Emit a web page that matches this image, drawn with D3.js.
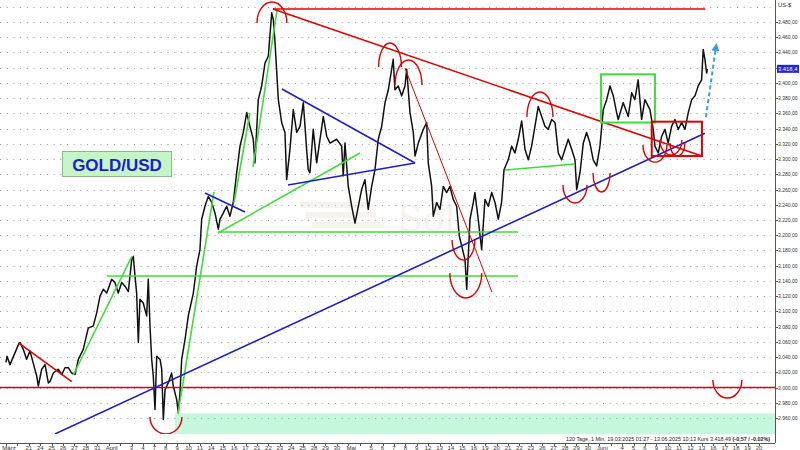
<!DOCTYPE html>
<html><head><meta charset="utf-8">
<script src="https://cdn.jsdelivr.net/npm/d3@7"></script>
<style>html,body{margin:0;padding:0;background:#fff;}svg{display:block;font-family:"Liberation Sans",Arial,sans-serif;}</style>
</head><body>
<svg id="c" width="800" height="450"></svg>
<script>
// ---- data ----
// trading-day index (0 = 19.03.2025) and price (US-$)
const priceIdx = [0,0.09,0.35,1.08,1.23,1.52,1.81,2.10,2.39,2.69,2.83,3.13,3.42,3.71,3.86,4.15,4.58,4.88,5.17,5.46,5.76,6.05,6.34,6.77,7.21,7.65,7.95,8.24,8.53,8.83,9.26,9.55,9.84,10.14,10.43,10.72,11.02,11.16,11.31,11.45,11.60,11.74,12.03,12.33,12.47,12.62,12.77,12.91,13.06,13.21,13.50,13.65,13.79,13.94,14.22,14.52,14.66,14.96,15.10,15.25,15.40,15.69,15.98,16.42,16.71,17.00,17.15,17.44,17.73,18.03,18.32,18.61,18.76,19.04,19.34,19.63,19.92,20.22,20.51,20.80,21.10,21.38,21.67,21.82,22.11,22.41,22.70,22.99,23.29,23.43,23.58,23.87,24.16,24.45,24.60,24.89,25.18,25.48,25.77,26.06,26.35,26.49,26.64,26.93,27.23,27.81,28.11,28.40,28.98,29.42,29.56,29.71,30.00,30.30,30.59,30.88,31.17,31.46,31.75,32.05,32.34,32.63,32.93,33.22,33.51,33.94,34.09,34.38,34.68,34.97,35.12,35.41,35.70,35.85,36.14,36.58,36.87,37.01,37.31,37.45,37.75,38.04,38.33,38.62,38.91,39.20,39.50,39.73,39.94,40.23,40.38,40.67,40.96,41.10,41.39,41.69,41.98,42.27,42.57,42.86,43.15,43.44,43.65,44.02,44.32,44.61,44.90,45.20,45.49,45.78,46.07,46.36,46.65,46.95,47.24,47.53,47.83,48.12,48.41,48.70,49.00,49.28,49.58,49.87,50.02,50.31,50.60,50.89,51.18,51.47,51.77,52.06,52.35,52.65,52.94,53.23,53.52,53.66,54.10,54.54,54.84,55.12,55.41,55.71,56.00,56.44,56.73,56.88,57.17,57.47,57.76,58.04,58.34,58.63,58.92,59.22,59.51,59.80,60.10,60.39,60.67,60.97,61.11,61.26,61.41,61.48];
const priceVal = [3033,3041,3030,3056,3059,3050,3037,3048,3032,3015,3002,3024,3030,3006,3008,3019,3024,3017,3026,3026,3019,3017,3037,3050,3078,3081,3098,3120,3129,3124,3142,3138,3124,3138,3133,3126,3168,3172,3146,3124,3059,3116,3111,3094,3142,3081,3037,3015,2971,3041,3037,3024,2958,2997,3006,3019,3002,2984,2967,2993,3037,3063,3094,3124,3159,3181,3221,3238,3251,3243,3229,3208,3221,3229,3238,3225,3243,3282,3317,3335,3361,3343,3326,3295,3378,3396,3426,3435,3492,3483,3453,3378,3348,3335,3273,3313,3365,3335,3343,3374,3313,3286,3282,3339,3295,3356,3330,3321,3326,3317,3278,3321,3264,3238,3216,3238,3260,3273,3234,3264,3286,3326,3343,3374,3391,3431,3391,3396,3383,3396,3418,3361,3335,3304,3321,3339,3348,3295,3264,3225,3243,3234,3264,3256,3264,3247,3238,3199,3186,3168,3129,3221,3243,3256,3221,3181,3247,3238,3256,3243,3221,3243,3286,3299,3317,3308,3326,3350,3313,3299,3317,3343,3369,3356,3343,3339,3352,3348,3308,3299,3313,3326,3313,3299,3260,3282,3321,3335,3321,3299,3291,3317,3365,3378,3396,3383,3361,3352,3374,3356,3387,3378,3404,3352,3378,3365,3339,3317,3308,3330,3339,3321,3343,3352,3339,3348,3339,3361,3378,3383,3396,3404,3444,3431,3413,3418.49];
const lastPrice = 3418.49;
const xTickLabels = ["März","","21","24","25","26","27","28","31","April","","3","4","7","8","9","10","11","14","15","16","17","21","22","23","24","25","28","29","30","Mai","","5","6","7","8","9","12","13","14","15","16","19","20","21","22","23","26","27","28","29","30","Juni","","4","5","6","9","10","11","12","13","16","17","18","19","20"];
const yTicks = [2960,2980,3000,3020,3040,3060,3080,3100,3120,3140,3160,3180,3200,3220,3240,3260,3280,3300,3320,3340,3360,3380,3400,3420,3440,3460,3480];
const gridTicks = yTicks.concat([3500]);
// drawn annotation lines: [idx1, price1, idx2, price2]
const redLines = [[23.4,3497,61.3,3497],[23.4,3497,61.0,3304],[1.08,3058.8,5.76,3007.6]];
const redThinLines = [[34.97,3419.6,42.59,3125.4]];
const redHLines = [3000];
const greenLines = [[5.9,3016.4,11.02,3171.8],[8.85,3146.4,44.87,3146.4],[18.58,3204.2,44.87,3204.2],[15.07,2965.2,18.23,3256.8],[19.98,3242.3,21.38,3360.5],[21.65,3289.6,23.75,3494.5],[18.58,3202.9,31.03,3308],[43.73,3285.6,49.87,3293.5]];
const blueLines = [[4.29,2939,61.26,3333.8],[24.19,3392,35.85,3294.8],[24.72,3266,35.85,3294.8],[17.44,3255.4,20.95,3230.5]];
const arrowLine = [61.35,3355.2,62.23,3447.2];
// rectangles: [idx1, idx2, priceTop, priceBottom]
const redRects = [[56.6,61.0,3349.1,3304]];
const greenRects = [[52.15,56.88,3411.3,3348]];
const bandRect = [14.8,67.5,2966,2900];
// arcs: [centerIdx, halfWidthIdx, endPrice, extremePrice]
const arcs = [[23.31,1.31,3478.7,3506.3],[33.66,1.0,3420.9,3452.4],[35.28,1.18,3397.3,3430.1],[46.8,1.14,3355.3,3388.1],[14.02,1.4,2961.3,2939],[40.3,1.4,3150.4,3117.6],[40.1,1.0,3193.7,3167.5],[49.87,1.05,3265.9,3242.3],[52.2,0.75,3281.7,3256.8],[56.88,1.05,3318.5,3296],[58.28,0.96,3325,3305.4],[58.85,0.66,3321,3304],[63.23,1.27,3009.8,2986.2]];
const titleText = "GOLD/USD";
const infoText = "120 Tage, 1 Min. 19.03.2025 01:27 - 13.06.2025 10:13 Kurs 3.418,49 ";
const infoBold = "(-0,57 / -0,02%)";

// ---- drawing ----
const svg = d3.select("#c");
const plotR = 775, plotB = 434, axisY = 443;
const x = d3.scaleLinear().domain([0,66]).range([6,759]);
const y = d3.scaleLinear().domain([3000,3480]).range([387.5,22]);
const fmt = v => d3.format(",.2f")(v).replace(/,/g,"#").replace(".",",").replace(/#/g,".");

svg.append("defs").append("clipPath").attr("id","clip").append("rect").attr("x",0).attr("y",0).attr("width",plotR).attr("height",plotB);
svg.select("defs").append("marker").attr("id","ah").attr("viewBox","0 0 10 10").attr("refX",5).attr("refY",5)
  .attr("markerWidth",4).attr("markerHeight",4).attr("orient","auto")
  .append("path").attr("d","M0,0 L10,5 L0,10 z").attr("fill","#3a9be6");

const g = svg.append("g").attr("clip-path","url(#clip)");

// band
g.append("rect").attr("x",x(bandRect[0])).attr("width",x(bandRect[1])-x(bandRect[0]))
  .attr("y",y(bandRect[2])).attr("height",y(bandRect[3])-y(bandRect[2])).attr("fill","#c5f7dd");

// grid
g.selectAll(".grid").data(gridTicks).enter().append("line")
  .attr("x1",0).attr("x2",plotR-4).attr("y1",d=>Math.round(y(d))+0.5).attr("y2",d=>Math.round(y(d))+0.5)
  .attr("stroke","#9a9a9a").attr("stroke-width",1).attr("stroke-dasharray","1,5.7");

// watermark
const wm = g.append("g").attr("opacity",0.35);
[[300,202,70],[306,212,70],[312,222,72]].forEach(r=>wm.append("rect").attr("x",r[0]).attr("y",r[1]).attr("width",r[2]).attr("height",6).attr("fill","#e6ddd2"));
wm.append("text").attr("x",398).attr("y",231).attr("font-size",36).attr("font-family","DejaVu Serif").attr("fill","#e6ddd2").text("Sol");

// title box
svg.append("rect").attr("x",62.5).attr("y",151.5).attr("width",109).attr("height",25).attr("fill","#c4f5c4").attr("stroke","#8fb88f");
svg.append("text").attr("x",117).attr("y",171).attr("text-anchor","middle").attr("font-size",17).attr("font-weight","bold").attr("fill","#1c1cd0").text(titleText);

// price line
const pts = priceIdx.map((d,i)=>[d,priceVal[i]]);
g.append("path").datum(pts).attr("fill","none").attr("stroke","#111").attr("stroke-width",1.5).attr("stroke-linejoin","round")
  .attr("d",d3.line().x(d=>x(d[0])).y(d=>y(d[1])));

function seg(sel, arr, color, w){
  sel.selectAll(null).data(arr).enter().append("line")
   .attr("x1",d=>x(d[0])).attr("y1",d=>y(d[1])).attr("x2",d=>x(d[2])).attr("y2",d=>y(d[3]))
   .attr("stroke",color).attr("stroke-width",w);
}
// red horizontal
g.selectAll(null).data(redHLines).enter().append("line").attr("x1",0).attr("x2",plotR).attr("y1",d=>y(d)).attr("y2",d=>y(d)).attr("stroke","#e00000").attr("stroke-width",1.5);
seg(g, greenLines, "#3fdc3a", 1.6);
seg(g, blueLines, "#1f1fc8", 1.6);
seg(g, redLines, "#e00000", 1.6);
seg(g, redThinLines, "#e00000", 1);
// rects
g.selectAll(null).data(greenRects).enter().append("rect").attr("x",d=>x(d[0])).attr("width",d=>x(d[1])-x(d[0])).attr("y",d=>y(d[2])).attr("height",d=>y(d[3])-y(d[2])).attr("fill","none").attr("stroke","#3fdc3a").attr("stroke-width",2);
g.selectAll(null).data(redRects).enter().append("rect").attr("x",d=>x(d[0])).attr("width",d=>x(d[1])-x(d[0])).attr("y",d=>y(d[2])).attr("height",d=>y(d[3])-y(d[2])).attr("fill","none").attr("stroke","#e00000").attr("stroke-width",2);
// arcs
g.selectAll(null).data(arcs).enter().append("path").attr("fill","none").attr("stroke","#e00000").attr("stroke-width",1.4)
  .attr("d",d=>{const x1=x(d[0]-d[1]), x2=x(d[0]+d[1]), yb=y(d[2]), ye=y(d[3]);
    const rx=(x2-x1)/2, ry=Math.abs(yb-ye); const sweep = ye<yb?1:0;
    return `M${x1},${yb} A${rx},${ry} 0 0 ${sweep} ${x2},${yb}`;});
// arrow
g.append("line").attr("x1",x(arrowLine[0])).attr("y1",y(arrowLine[1])).attr("x2",x(arrowLine[2])).attr("y2",y(arrowLine[3]))
  .attr("stroke","#3a9be6").attr("stroke-width",2).attr("stroke-dasharray","4,3").attr("marker-end","url(#ah)");

// info text
const it = svg.append("text").attr("x",770).attr("y",440.5).attr("text-anchor","end").attr("font-size",5.4).attr("fill","#222");
it.append("tspan").text(infoText);
it.append("tspan").attr("font-weight","bold").text(infoBold);

// axes
svg.append("line").attr("x1",plotR+0.5).attr("x2",plotR+0.5).attr("y1",0).attr("y2",axisY).attr("stroke","#555");
svg.append("line").attr("x1",0).attr("x2",plotR).attr("y1",axisY+0.5).attr("y2",axisY+0.5).attr("stroke","#555");
svg.selectAll(".yt").data(yTicks).enter().append("line").attr("x1",plotR).attr("x2",plotR+3).attr("y1",d=>Math.round(y(d))+0.5).attr("y2",d=>Math.round(y(d))+0.5).attr("stroke","#555");
const tagY = y(lastPrice);
svg.selectAll(".yl").data(yTicks.filter(d=>Math.abs(y(d)-tagY)>7)).enter().append("text").attr("x",778).attr("y",d=>y(d)+2)
  .attr("font-size",5.8).attr("textLength",19.5).attr("lengthAdjust","spacingAndGlyphs").attr("fill","#333").text(d=>fmt(d));
svg.append("text").attr("x",778).attr("y",7).attr("font-size",5.8).attr("fill","#333").text("US-$");
// last price tag
svg.append("rect").attr("x",777).attr("y",tagY-4).attr("width",22).attr("height",8).attr("fill","#2323d8");
svg.append("text").attr("x",778).attr("y",tagY+2.2).attr("font-size",5.8).attr("textLength",19.5).attr("lengthAdjust","spacingAndGlyphs").attr("fill","#fff").text(fmt(lastPrice).slice(0,7));
// x ticks
const xt = xTickLabels.map((l,i)=>[i,l]).filter(d=>d[1]!=="");
svg.selectAll(".xt").data(xTickLabels.map((l,i)=>i)).enter().append("line").attr("x1",d=>Math.round(x(d))+0.5).attr("x2",d=>Math.round(x(d))+0.5).attr("y1",axisY).attr("y2",axisY+3).attr("stroke","#555");
svg.selectAll(".xl").data(xt).enter().append("text").attr("x",d=>x(d[0])+(isNaN(+d[1])?3:0)).attr("y",450).attr("text-anchor","middle").attr("font-size",6).attr("fill","#333").text(d=>d[1]);
</script>
</body></html>
